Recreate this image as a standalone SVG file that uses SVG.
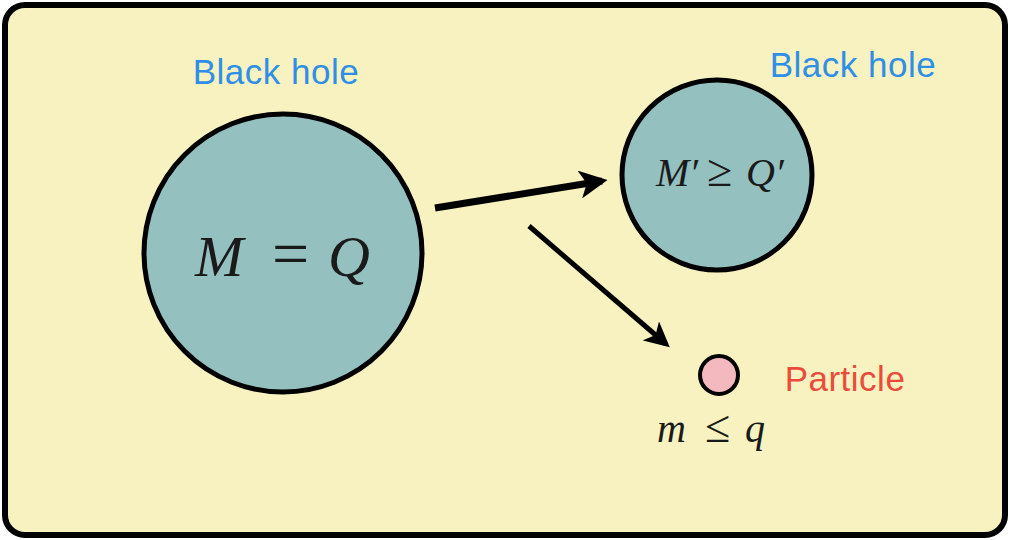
<svg xmlns="http://www.w3.org/2000/svg" width="1010" height="540" viewBox="0 0 1010 540">
<defs>
<style>
.lbl{font-family:"Liberation Sans",Arial,sans-serif;font-size:35px;letter-spacing:0.5px;}
.blue{fill:#2f8fe6;}
.red{fill:#ec4b3c;}
.math{font-family:"Liberation Serif","Times New Roman",serif;font-style:italic;fill:#1a1a1a;}
.up{font-style:normal;}
.bh{fill:#94c0c0;stroke:#000;stroke-width:5;}
.conn{stroke:#000;fill:none;}
</style>
<marker id="ah" viewBox="0 0 10 10" refX="8" refY="5" markerWidth="4" markerHeight="4" orient="auto" markerUnits="strokeWidth">
<path d="M0,0 L10,5 L0,10 L2.5,5 Z" fill="#000"/>
</marker>
<marker id="ah2" viewBox="0 0 10 10" refX="8" refY="5" markerWidth="5" markerHeight="5" orient="auto" markerUnits="strokeWidth">
<path d="M0,0 L10,5 L0,10 L2.5,5 Z" fill="#000"/>
</marker>
</defs>
<rect x="5" y="5" width="1000" height="530" rx="20" fill="#f7f2bf" stroke="#000" stroke-width="6"/>
<g id="bh1">
<circle class="bh" cx="283" cy="253" r="139"/>
<text class="math" y="276" font-size="58"><tspan x="195">M</tspan><tspan class="up" x="272" font-size="66">=</tspan><tspan x="328">Q</tspan></text>
<text class="lbl blue" x="276" y="84" text-anchor="middle">Black hole</text>
</g>
<g id="bh2">
<circle class="bh" cx="717" cy="175" r="95"/>
<text class="math" y="186" font-size="40"><tspan x="656">M′</tspan><tspan class="up" x="707" font-size="46">≥</tspan><tspan x="746">Q′</tspan></text>
<text class="lbl blue" x="853" y="77" text-anchor="middle">Black hole</text>
</g>
<g id="particle">
<circle cx="719" cy="375" r="19" fill="#f4b9bf" stroke="#000" stroke-width="4"/>
<text class="lbl red" x="845" y="391" text-anchor="middle">Particle</text>
<text class="math" y="442" font-size="40"><tspan x="657">m</tspan><tspan class="up" x="705" font-size="46">≤</tspan><tspan x="745">q</tspan></text>
</g>
<g id="connectors">
<line class="conn" x1="435" y1="208" x2="602" y2="181" stroke-width="7" marker-end="url(#ah)"/>
<line class="conn" x1="529" y1="226" x2="666" y2="344" stroke-width="5" marker-end="url(#ah2)"/>
</g>
</svg>
